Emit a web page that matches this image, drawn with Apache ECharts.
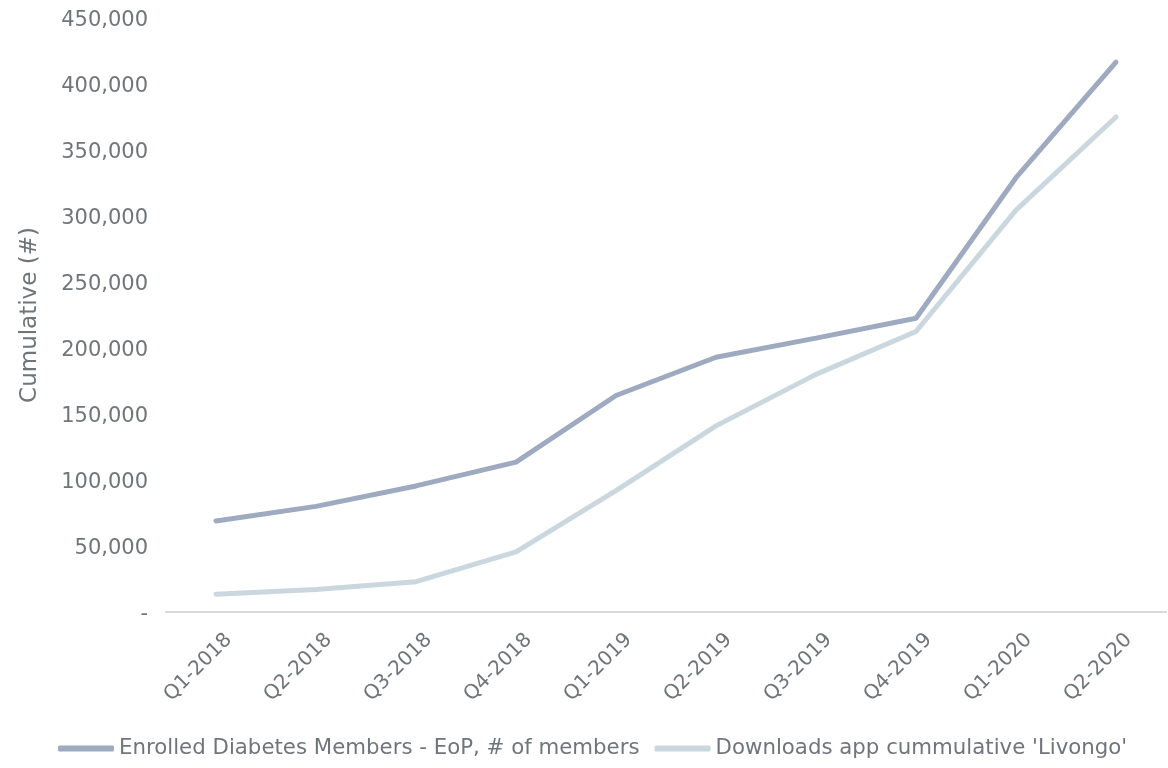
<!DOCTYPE html>
<html>
<head>
<meta charset="utf-8">
<script src="https://cdn.jsdelivr.net/npm/echarts@6/dist/echarts.min.js"></script>
<style>
  html, body { margin: 0; padding: 0; background: #ffffff; }
  #chart { width: 1168px; height: 768px; }
</style>
</head>
<body>
<div id="chart"></div>
<script>
// Quarterly cumulative figures
const quarters = ['Q1-2018', 'Q2-2018', 'Q3-2018', 'Q4-2018', 'Q1-2019',
                  'Q2-2019', 'Q3-2019', 'Q4-2019', 'Q1-2020', 'Q2-2020'];
const enrolledMembers = [69000, 80000, 95500, 113500, 164000, 193000, 207500, 222500, 329000, 416500];
const appDownloads = [13500, 17000, 23000, 45500, 92000, 141000, 180000, 212500, 304500, 375000];
const seriesNames = ['Enrolled Diabetes Members - EoP, # of members', "Downloads app cummulative 'Livongo'"];

const textColor = '#6f767b';
const fontFamily = '"DejaVu Sans", sans-serif';
const chart = echarts.init(document.getElementById('chart'));

chart.setOption({
  animation: false,
  grid: { left: 166, right: 2, top: 18, bottom: 156 },
  legend: {
    bottom: 4,
    left: 53,
    itemWidth: 56,
    itemHeight: 6,
    itemGap: 15,
    textStyle: { color: textColor, fontSize: 21.3, fontFamily: fontFamily },
    icon: 'roundRect',
    data: seriesNames
  },
  xAxis: {
    type: 'category',
    data: quarters,
    boundaryGap: true,
    axisLine: { lineStyle: { color: '#d9d9d9', width: 2 } },
    axisTick: { show: false },
    axisLabel: {
      rotate: 45,
      color: textColor,
      fontSize: 20,
      fontFamily: fontFamily,
      verticalAlign: 'top',
      margin: 12,
      formatter: function (v) { return '{q|' + v + '}'; },
      rich: {
        q: { color: textColor, fontSize: 20, fontFamily: fontFamily, padding: [8, 0, 0, 0] }
      }
    }
  },
  yAxis: {
    type: 'value',
    min: 0,
    max: 450000,
    interval: 50000,
    name: 'Cumulative (#)',
    nameLocation: 'middle',
    nameGap: 124,
    nameTextStyle: { color: textColor, fontSize: 23, fontFamily: fontFamily },
    axisLine: { show: false },
    axisTick: { show: false },
    splitLine: { show: false },
    axisLabel: {
      color: textColor,
      fontSize: 21,
      fontFamily: fontFamily,
      margin: 18,
      formatter: function (v) { return '{t|' + (v === 0 ? '-' : v.toLocaleString('en-US')) + '}'; },
      rich: {
        t: { color: textColor, fontSize: 21, fontFamily: fontFamily, padding: [6, 0, 0, 0] }
      }
    }
  },
  series: [
    {
      name: seriesNames[0],
      type: 'line',
      data: enrolledMembers,
      showSymbol: false,
      symbol: 'none',
      lineStyle: { color: '#9daabf', width: 5, cap: 'round' },
      itemStyle: { color: '#9daabf' }
    },
    {
      name: seriesNames[1],
      type: 'line',
      data: appDownloads,
      showSymbol: false,
      symbol: 'none',
      lineStyle: { color: '#cad7df', width: 5, cap: 'round' },
      itemStyle: { color: '#cad7df' }
    }
  ]
});
</script>
</body>
</html>
